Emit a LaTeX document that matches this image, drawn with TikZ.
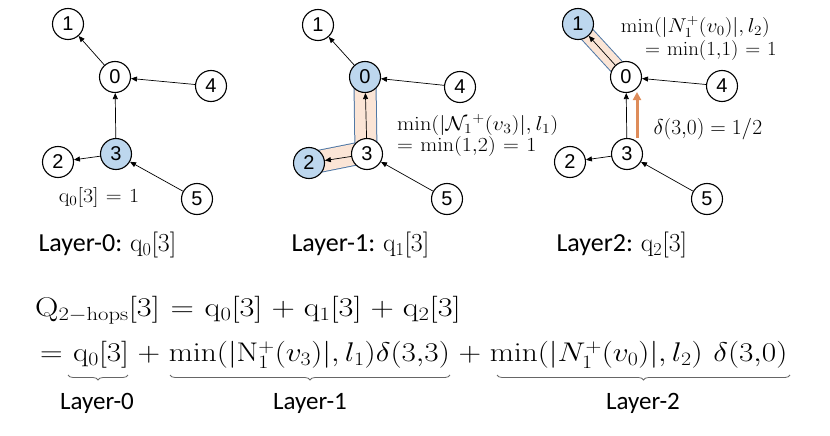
\RequirePackage{fix-cm}
\documentclass[tikz,border=0pt]{standalone}
\usepackage[no-math]{fontspec}
\usepackage{graphicx}
\setmainfont{Carlito}
\newfontfamily\nodefont{Liberation Sans}
\usetikzlibrary{arrows.meta,decorations.pathreplacing}
\definecolor{nblue}{RGB}{189,215,238}
\definecolor{bandfill}{RGB}{251,229,214}
\definecolor{bandline}{RGB}{80,120,165}
\definecolor{oarrow}{RGB}{222,140,90}
\newcommand{\wmath}[2]{\scalebox{#1}[1]{$\medmuskip=5mu\thickmuskip=6mu #2$}}
\begin{document}
\begin{tikzpicture}[x=1pt,y=-1pt,
  vtx/.style={circle,draw,line width=1.1pt,minimum size=31pt,inner sep=0pt,fill=white,
    font=\nodefont\fontsize{20}{20}\selectfont},
  hl/.style={vtx,fill=nblue},
  edge/.style={line width=0.7pt,-{Triangle[length=6pt,width=5pt]}},
  small/.style={font=\fontsize{20}{22}\selectfont},
  layer/.style={font=\fontsize{26}{30}\selectfont,anchor=west},
  eq/.style={font=\fontsize{27}{30}\selectfont,anchor=west,inner sep=0pt},
  brc/.style={decorate,decoration={brace,mirror,amplitude=5pt},draw=black!60,line width=0.8pt},
  band/.style={line cap=round,line join=round}
]
\useasboundingbox (0,0) rectangle (830,436);
% ---------- Panel 1
\node[vtx] (a1) at (68,24) {1};
\node[vtx] (a0) at (115,77) {0};
\node[vtx] (a4) at (211,86) {4};
\node[hl]  (a3) at (116,154) {3};
\node[vtx] (a2) at (58,162) {2};
\node[vtx] (a5) at (197,199) {5};
\draw[edge] (a0) -- (a1);
\draw[edge] (a4) -- (a0);
\draw[edge] (a3) -- (a0);
\draw[edge] (a3) -- (a2);
\draw[edge] (a5) -- (a3);
\node[small] (aq) at (99,197) {\wmath{1.1}{\mathrm{q}_0[3]=1}};
\node[layer] (al) at (35,245) {Layer-0: $\mathrm{q}_0[3]$};
% ---------- Panel 2
\coordinate (bb1) at (365,84);
\coordinate (bb2) at (366,152);
\coordinate (bb3) at (316,162);
\draw[band,line width=23pt,draw=bandline] (bb1) -- (bb2) -- (bb3);
\draw[band,line width=21pt,draw=bandfill] (bb1) -- (bb2) -- (bb3);
\node[vtx] (b1) at (318,25) {1};
\node[hl]  (b0) at (365,77) {0};
\node[vtx] (b4) at (460,87) {4};
\node[vtx] (b3) at (367,154) {3};
\node[hl]  (b2) at (309,163) {2};
\node[vtx] (b5) at (447,199) {5};
\draw[edge] (b0) -- (b1);
\draw[edge] (b4) -- (b0);
\draw[edge] (b3) -- (b0);
\draw[edge] (b3) -- (b2);
\draw[edge] (b5) -- (b3);
\node[small,anchor=west,inner sep=1pt] (bt1) at (396,125) {\wmath{1.12}{\min(|\mathcal{N}_1{}^{+}(v_3)|,l_1)}};
\node[small,anchor=west,inner sep=1pt] (bt2) at (396,147) {\wmath{1.1}{=\min(1{,}2)=1}};
\node[layer] (bl) at (288,245) {Layer-1: $\mathrm{q}_1[3]$};
% ---------- Panel 3
\coordinate (cb1) at (585,32);
\coordinate (cb2) at (618,68);
\draw[band,line width=16pt,draw=bandline] (cb1) -- (cb2);
\draw[band,line width=14pt,draw=bandfill] (cb1) -- (cb2);
\node[hl]  (c1) at (578,24) {1};
\node[vtx] (c0) at (626,77) {0};
\node[vtx] (c4) at (722,86) {4};
\node[vtx] (c3) at (627,154) {3};
\node[vtx] (c2) at (570,162) {2};
\node[vtx] (c5) at (707,199) {5};
\draw[edge] (c0) -- (c1);
\draw[edge] (c4) -- (c0);
\draw[edge] (c3) -- (c0);
\draw[edge] (c3) -- (c2);
\draw[edge] (c5) -- (c3);
\coordinate (oa1) at (637,138);
\coordinate (oa2) at (637,92);
\draw[oarrow,line width=3pt,-{Triangle[length=8pt,width=8pt]}] (oa1) -- (oa2);
\node[small,anchor=east,inner sep=1pt] (ct1) at (771,27) {\wmath{1.08}{\min(|N_1^{+}(v_0)|,l_2)}};
\node[small,anchor=east,inner sep=1pt] (ct2) at (778,51) {\wmath{1.04}{=\min(1{,}1)=1}};
\node[small,anchor=west,font=\fontsize{21.5}{24}\selectfont] (ct3) at (650,129) {$\delta(3{,}0)=1/2$};
\node[layer] (cl) at (553,245) {Layer2: $\mathrm{q}_2[3]$};
% ---------- Equations
\node[eq] (e1) at (35,310) {\wmath{1.2}{\mathrm{Q}_{2-\mathrm{hops}}[3]=\mathrm{q}_0[3]+\mathrm{q}_1[3]+\mathrm{q}_2[3]}};
\node[eq] (e2) at (40,355) {\wmath{1.16}{=\mathrm{q}_0[3]+\min(|\mathrm{N}_1^{+}(v_3)|,l_1)\delta(3{,}3)+\min(|N_1^{+}(v_0)|,l_2)\;\delta(3{,}0)}};
\coordinate (br1a) at (68,375); \coordinate (br1b) at (128,375);
\coordinate (br2a) at (170,375); \coordinate (br2b) at (450,375);
\coordinate (br3a) at (497,375); \coordinate (br3b) at (790,375);
\draw[brc] (br1a) -- (br1b);
\draw[brc] (br2a) -- (br2b);
\draw[brc] (br3a) -- (br3b);
\node[font=\fontsize{25}{28}\selectfont] (l0) at (97,403) {Layer-0};
\node[font=\fontsize{25}{28}\selectfont] (l1) at (310,403) {Layer-1};
\node[font=\fontsize{25}{28}\selectfont] (l2) at (643,403) {Layer-2};
\end{tikzpicture}
\end{document}
